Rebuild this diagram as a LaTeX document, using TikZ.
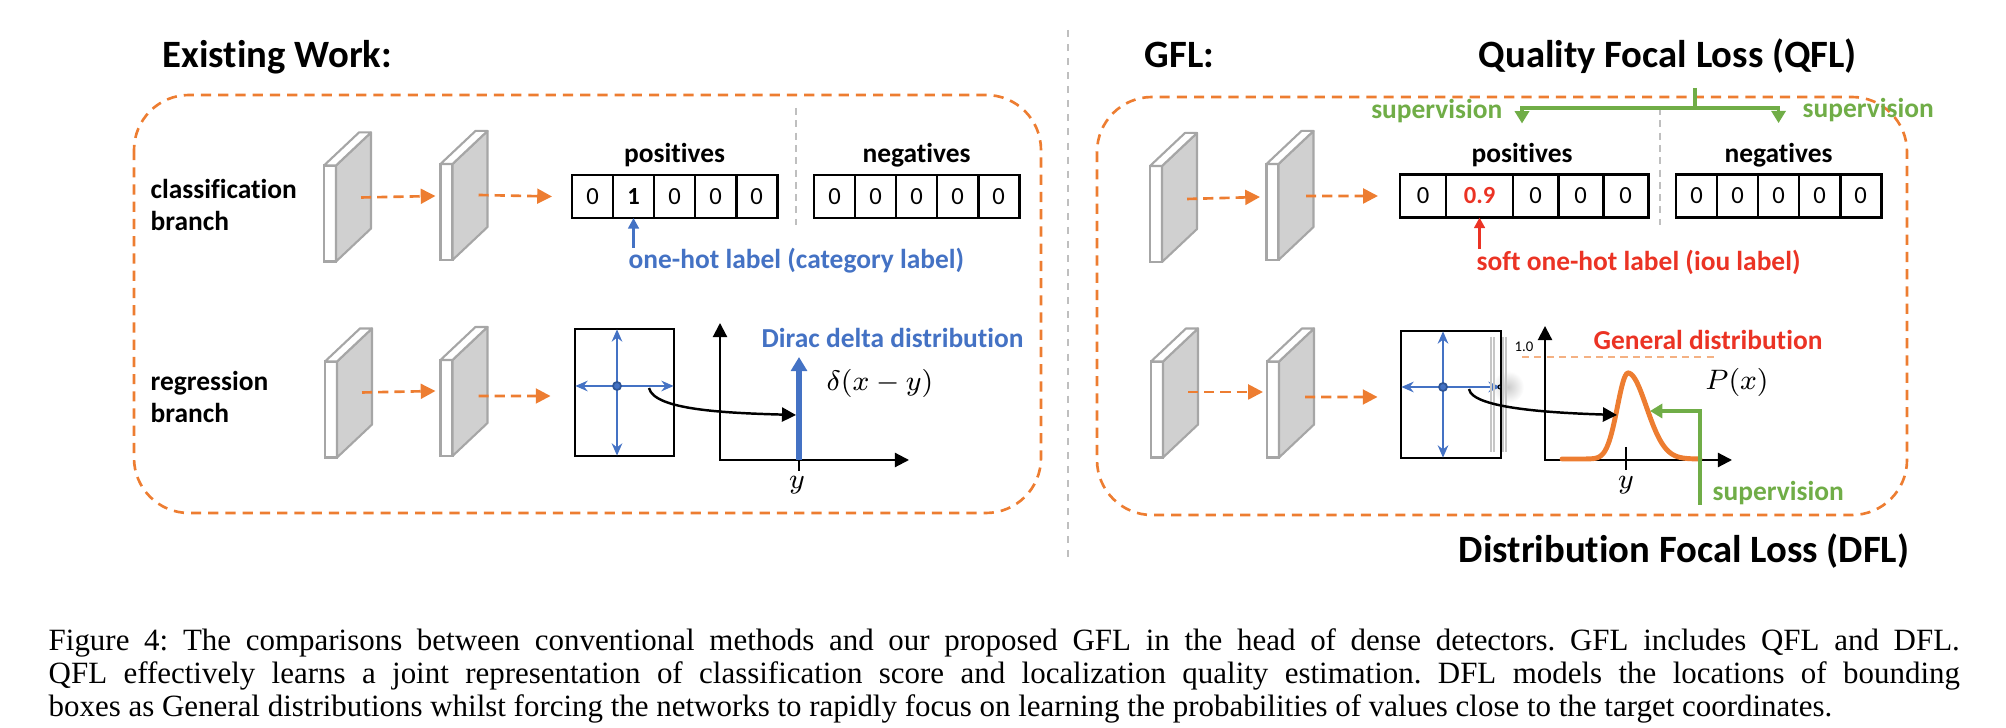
\documentclass[tikz,border=0pt]{standalone}
\usepackage{fontspec}
\setmainfont{Liberation Serif}
\newfontfamily\calib[Ligatures=NoCommon]{Carlito}
\usepackage{tikz}
\usetikzlibrary{positioning}
\usetikzlibrary{arrows.meta}

\definecolor{gorange}{RGB}{237,125,49}
\definecolor{lorange}{RGB}{244,177,131}
\definecolor{gblue}{RGB}{68,114,196}
\definecolor{dblue}{RGB}{47,85,151}
\definecolor{ggreen}{RGB}{112,173,71}
\definecolor{gred}{RGB}{235,51,36}
\definecolor{slabfill}{RGB}{208,208,208}
\definecolor{slabedge}{RGB}{166,166,166}
\definecolor{divgray}{RGB}{191,191,191}

% Seiten- und Oberflaeche einer Feature-Map (Vorderseite #1 schon gesetzt)
\newcommand{\fmapside}[1]{%
  \filldraw[fill=slabfill, draw=slabedge, line width=0.6pt, line join=round]
    (#1.north east) -- ++(0.35cm,0.33cm) -- ++(0,-0.96cm) -- (#1.south east) -- cycle;
  \filldraw[fill=white, draw=slabedge, line width=0.6pt, line join=round]
    (#1.north west) -- ++(0.35cm,0.33cm) -- ++(0.12cm,0) -- (#1.north east) -- cycle;}

\begin{document}
\begin{tikzpicture}[x=0.01cm, y=-0.01cm,
  titletxt/.style={font=\calib\bfseries\fontsize{11}{13}\selectfont, inner sep=0pt},
  labtxt/.style={font=\calib\bfseries\fontsize{7.8}{9.2}\selectfont, inner sep=0pt},
  bluelab/.style={labtxt, text=gblue},
  redlab/.style={labtxt, text=gred},
  greenlab/.style={labtxt, text=ggreen},
  mathtxt/.style={font=\fontsize{8.5}{10}\selectfont, inner sep=0pt},
  cellbox/.style={draw, line width=0.8pt, minimum width=0.41cm, minimum height=0.43cm, inner sep=0pt, outer sep=0pt, font=\calib\fontsize{7}{8}\selectfont},
  fmapfront/.style={draw=slabedge, fill=white, line width=0.6pt, minimum width=0.12cm, minimum height=0.96cm, inner sep=0pt, outer sep=0pt},
  regbox/.style={draw, line width=0.8pt, minimum width=1cm, minimum height=1.27cm, inner sep=0pt},
  flowarr/.style={gorange, line width=0.75pt, dash pattern=on 2.9pt off 1.7pt, -{Triangle[length=4.2pt, width=4.2pt]}},
  panelbox/.style={gorange, line width=0.75pt, dash pattern=on 2.9pt off 2pt, rounded corners=0.55cm},
  crossarr/.style={gblue, line width=0.6pt, shorten <=0.5pt, shorten >=0.5pt, {Stealth[length=3.5pt, width=3pt]}-{Stealth[length=3.5pt, width=3pt]}},
  axisarr/.style={line width=0.6pt, {Triangle[length=4pt, width=4pt]}-{Triangle[length=4pt, width=4pt]}},
  bluearr/.style={gblue, line width=0.8pt, -{Triangle[length=3pt, width=3pt]}},
  redarr/.style={gred, line width=0.8pt, -{Triangle[length=3pt, width=3pt]}},
  diracarr/.style={gblue, line width=1.5pt, -{Triangle[length=4pt, width=4.5pt]}},
  curvearr/.style={line width=0.7pt, -{Triangle[length=4pt, width=4pt]}},
  gline/.style={ggreen, line width=1pt},
  garrow/.style={ggreen, line width=1pt, -{Triangle[length=3.5pt, width=4pt]}},
  divline/.style={divgray, line width=0.4pt, dash pattern=on 2pt off 1.5pt}]

  \useasboundingbox (0,0) rectangle (2006,728);

  % Titel
  \node[titletxt, anchor=base west] (tex) at (162,68) {Existing Work:};
  \node[titletxt, anchor=base west] (tgfl) at (1144,68) {GFL:};
  \node[titletxt, anchor=base west] (tqfl) at (1478,68) {Quality Focal Loss (QFL)};

  % Rahmen und Trennlinie
  \draw[panelbox] (134,95) rectangle (1041,513);
  \draw[panelbox] (1097,97) rectangle (1907,515);
  \draw[divgray, line width=0.5pt, dash pattern=on 2pt off 2pt] (1068,30) -- (1068,560);

  % ---------- Existing Work: classification branch ----------
  \node[labtxt, align=left, anchor=west] (lcls) at (150,205) {classification\\branch};
  \node[fmapfront] (lf1) at (330,213.5) {}; \fmapside{lf1}
  \node[fmapfront] (lf2) at (446.5,212) {}; \fmapside{lf2}
  \node[cellbox] (lp1) at (592.5,196.5) {0};
  \node[cellbox, right=0pt of lp1] (lp2) {\bfseries 1};
  \node[cellbox, right=0pt of lp2] (lp3) {0};
  \node[cellbox, right=0pt of lp3] (lp4) {0};
  \node[cellbox, right=0pt of lp4] (lp5) {0};
  \node[labtxt, above=2pt of lp3] (lpos) {positives};
  \node[cellbox] (ln1) at (834.5,196.5) {0};
  \node[cellbox, right=0pt of ln1] (ln2) {0};
  \node[cellbox, right=0pt of ln2] (ln3) {0};
  \node[cellbox, right=0pt of ln3] (ln4) {0};
  \node[cellbox, right=0pt of ln4] (ln5) {0};
  \node[labtxt, above=2pt of ln3] (lneg) {negatives};
  \draw[divline] (796,108) -- (796,225);
  \draw[flowarr] ([xshift=0.25cm, yshift=0.16cm]lf1.east) -- ([xshift=-0.05cm, yshift=0.16cm]lf2.west);
  \draw[flowarr] ([xshift=0.26cm, yshift=0.17cm]lf2.east) -- ([xshift=-0.2cm]lp1.west);
  \node[bluelab, anchor=west] (lhot) at (628,261) {one-hot label (category label)};
  \draw[bluearr] (lhot.north -| lp2) -- (lp2.south);

  % ---------- Existing Work: regression branch ----------
  \node[labtxt, align=left, anchor=west] (lreg) at (150,397) {regression\\branch};
  \node[fmapfront] (lg1) at (331,409.5) {}; \fmapside{lg1}
  \node[fmapfront] (lg2) at (446.5,408) {}; \fmapside{lg2}
  \node[regbox, minimum width=0.99cm] (lbox) at (624.5,392.5) {};
  \draw[flowarr] ([xshift=0.25cm, yshift=0.17cm]lg1.east) -- ([xshift=-0.05cm, yshift=0.17cm]lg2.west);
  \draw[flowarr] ([xshift=0.26cm, yshift=0.12cm]lg2.east) -- ([xshift=-0.23cm, yshift=-0.035cm]lbox.west);
  \coordinate (lc) at (617,386);
  \draw[crossarr] (lbox.west |- lc) -- (lbox.east |- lc);
  \draw[crossarr] (lbox.north -| lc) -- (lbox.south -| lc);
  \filldraw[fill=gblue, draw=dblue, line width=0.5pt] (lc) circle (0.04cm);

  % Dirac-Verteilung
  \coordinate (lorg) at (720,460);
  \coordinate (lytop) at (720,323);
  \coordinate (lxend) at (909,460);
  \draw[axisarr] (lytop) -- (lorg) -- (lxend);
  \coordinate (ldir) at (799,460);
  \coordinate (ldirtop) at (799,357);
  \draw[diracarr] (ldir) -- (ldirtop);
  \draw[line width=0.6pt] (ldir) -- ++(0,-0.11cm);
  \node[mathtxt] (ly) at (797,485) {$y$};
  \node[bluelab, anchor=west] (ldirac) at (761,338) {Dirac delta distribution};
  \node[mathtxt] (ldelta) at (880,383) {$\delta(x-y)$};
  \coordinate (lhit) at (796,415);
  \draw[curvearr] ([xshift=0.32cm, yshift=-0.02cm]lc) .. controls +(0.05cm,-0.22cm) and +(-0.7cm,0.02cm) .. (lhit);

  % ---------- GFL: classification branch ----------
  \node[fmapfront] (rf1) at (1156,214) {}; \fmapside{rf1}
  \node[fmapfront] (rf2) at (1272.5,212) {}; \fmapside{rf2}
  \node[cellbox, minimum width=0.46cm] (rp1) at (1423,196) {0};
  \node[cellbox, minimum width=0.67cm, right=0pt of rp1, text=gred] (rp2) {\bfseries 0.9};
  \node[cellbox, minimum width=0.45cm, right=0pt of rp2] (rp3) {0};
  \node[cellbox, minimum width=0.45cm, right=0pt of rp3] (rp4) {0};
  \node[cellbox, minimum width=0.45cm, right=0pt of rp4] (rp5) {0};
  \node[labtxt] (rpos) at (1522,155) {positives};
  \node[cellbox] (rn1) at (1696.5,196) {0};
  \node[cellbox, right=0pt of rn1] (rn2) {0};
  \node[cellbox, right=0pt of rn2] (rn3) {0};
  \node[cellbox, right=0pt of rn3] (rn4) {0};
  \node[cellbox, right=0pt of rn4] (rn5) {0};
  \node[labtxt, above=2pt of rn3] (rneg) {negatives};
  \draw[divline] (1660,108) -- (1660,225);
  \draw[flowarr] ([xshift=0.25cm, yshift=0.15cm]rf1.east) -- ([xshift=-0.065cm, yshift=0.15cm]rf2.west);
  \draw[flowarr] ([xshift=0.275cm, yshift=0.16cm]rf2.east) -- ([xshift=-0.22cm]rp1.west);
  \node[redlab, anchor=west] (rhot) at (1476,262) {soft one-hot label (iou label)};
  \draw[redarr] (rhot.north -| rp2) -- (rp2.south);

  % QFL supervision
  \coordinate (qtop) at (1695,88);
  \coordinate (qmid) at (1695,108);
  \draw[gline] (qtop) -- (qmid);
  \draw[garrow] (qmid) -| ([yshift=0.19cm]rpos.north);
  \draw[garrow] (qmid) -| ([yshift=0.19cm]rneg.north);
  \node[greenlab, anchor=east] (qsupl) at (1503,111) {supervision};
  \node[greenlab, anchor=west] (qsupr) at (1802,110) {supervision};

  % ---------- GFL: regression branch ----------
  \node[fmapfront] (rg1) at (1157,409.5) {}; \fmapside{rg1}
  \node[fmapfront] (rg2) at (1273,409.5) {}; \fmapside{rg2}
  % Schatten am rechten Rand
  \shade[inner color=black!20, outer color=white] (1508,387) circle (0.16cm);
  \node[regbox] (rbox) at (1451,394.5) {};
  \draw[flowarr] ([xshift=0.25cm, yshift=0.175cm]rg1.east) -- ([xshift=-0.04cm, yshift=0.175cm]rg2.west);
  \draw[flowarr] ([xshift=0.26cm, yshift=0.125cm]rg2.east) -- ([xshift=-0.22cm, yshift=-0.025cm]rbox.west);
  \coordinate (rc) at (1443,387);
  \draw[crossarr] (rbox.west |- rc) -- (rbox.east |- rc);
  \draw[crossarr] (rbox.north -| rc) -- (rbox.south -| rc);
  \filldraw[fill=gblue, draw=dblue, line width=0.5pt] (rc) circle (0.04cm);
  \draw[line width=0.3pt] (1500,387) circle (0.02cm);
  \draw[gray!45, line width=0.3pt] (1491,337) -- (1491,452) (1494,337) -- (1494,452)
                                   (1503,337) -- (1503,452) (1506,337) -- (1506,452);

  % General distribution
  \coordinate (rorg) at (1545,460);
  \coordinate (rytop) at (1545,326);
  \coordinate (rxend) at (1732,460);
  \draw[axisarr] (rytop) -- (rorg) -- (rxend);
  \node[font=\calib\fontsize{4.2}{5}\selectfont, inner sep=0pt] (rone) at (1524,347) {1.0};
  \draw[lorange, line width=0.6pt, dash pattern=on 2pt off 1.5pt] (1522,357) -- (1715,357);
  \draw[gorange, line width=1.4pt, line cap=round, domain=1562:1628, samples=50, smooth]
    plot (\x, {459-86*exp(-((\x-1628)/15)^2)});
  \draw[gorange, line width=1.4pt, line cap=round, domain=1628:1700, samples=50, smooth]
    plot (\x, {459-86*exp(-((\x-1628)/26)^2)});
  \draw[line width=0.6pt] (1626,447) -- (1626,470);
  \node[mathtxt] (ry) at (1626,485) {$y$};
  \node[redlab, anchor=west] (rgen) at (1593,340) {General distribution};
  \node[mathtxt] (rpx) at (1737,382) {$P(x)$};
  \coordinate (rhit) at (1617,415);
  \draw[curvearr] ([xshift=0.26cm, yshift=-0.02cm]rc) .. controls +(0.03cm,-0.2cm) and +(-0.6cm,0.02cm) .. (rhit);

  % DFL supervision
  \coordinate (dtail) at (1700,505);
  \coordinate (dhit) at (1650,411);
  \draw[garrow] (dtail) |- (dhit);
  \node[greenlab, anchor=west] (dsup) at (1712,493) {supervision};
  \node[titletxt, anchor=base west] (tdfl) at (1458,563) {Distribution Focal Loss (DFL)};

  % Bildunterschrift
  \node[anchor=north west, inner sep=0pt, text width=19.1cm, align=justify,
        font=\fontsize{8.8}{9.45}\selectfont] (cap) at (48,628)
    {\frenchspacing\parfillskip=0pt Figure 4: The comparisons between conventional methods and our proposed GFL in the head of dense detectors. GFL includes QFL and DFL.\linebreak
     QFL effectively learns a joint representation of classification score and localization quality estimation. DFL models the locations of bounding\linebreak
     boxes as General distributions whilst forcing the networks to rapidly focus on learning the probabilities of values close to the target coordinates.};

\end{tikzpicture}
\end{document}
